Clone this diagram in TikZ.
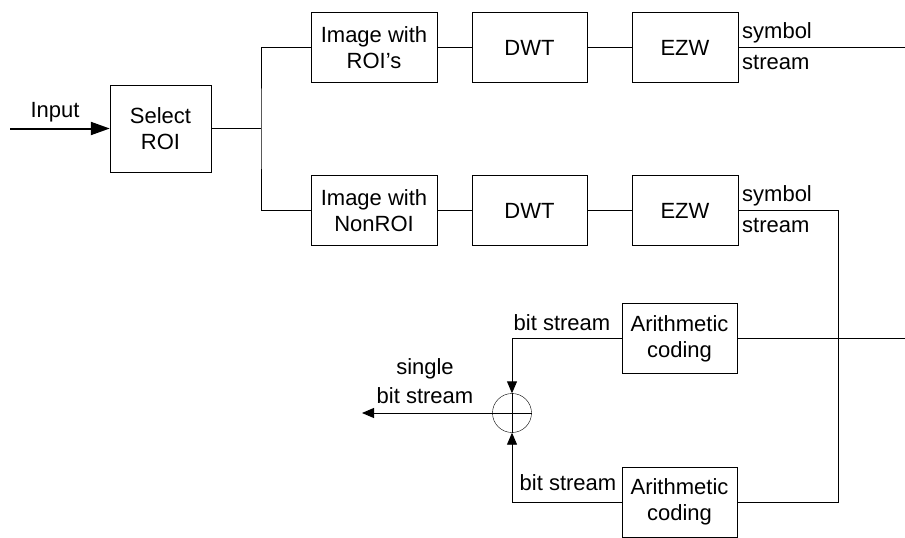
\documentclass[tikz,border=0pt]{standalone}
\usepackage{fontspec}
\setmainfont{Liberation Sans}
\usetikzlibrary{arrows.meta, positioning, calc}

\begin{document}
\begin{tikzpicture}[
    x=1pt, y=-1pt,
    >={Triangle[length=12pt, width=10pt]},
    block/.style={draw, minimum height=70pt, align=center, font=\fontsize{22}{26}\selectfont, inner sep=2pt},
    lbl/.style={font=\fontsize{22}{26}\selectfont, inner sep=1pt},
    wire/.style={line width=0.9pt},
    flow/.style={->, line width=0.9pt}
  ]
    \useasboundingbox (0,0) rectangle (905,538);

    % Blocks
    \node[block, minimum width=101pt, minimum height=87pt] (select) at (160.5,128.5) {Select\\ROI};
    \node[block, minimum width=126pt] (imgroi) at (374,47.5) {Image with\\ROI's};
    \node[block, minimum width=115pt] (dwta) at (529.5,47.5) {DWT};
    \node[block, minimum width=106pt] (ezwa) at (685,47.5) {EZW};
    \node[block, minimum width=126pt] (imgnon) at (374,210.5) {Image with\\NonROI};
    \node[block, minimum width=115pt] (dwtb) at (529.5,210.5) {DWT};
    \node[block, minimum width=106pt] (ezwb) at (685,210.5) {EZW};
    \node[block, minimum width=115pt] (arita) at (679.5,338.5) {Arithmetic\\coding};
    \node[block, minimum width=115pt] (aritb) at (679.5,502) {Arithmetic\\coding};
    \node[draw, circle, minimum size=39pt, inner sep=0pt] (sum) at (512,413) {};
    \draw (sum.north) -- (sum.south) (sum.west) -- (sum.east);

    % Free ends
    \coordinate (in) at (10,128.5);
    \coordinate (split) at (261,128.5);
    \coordinate (outa) at (905,47.5);
    \coordinate (outb) at (905,338.5);
    \coordinate (turn) at (838,210.5);
    \coordinate (out) at (362,413);

    % Connectors
    \draw[-{Triangle[length=19pt, width=13pt]}, line width=2pt] (in) -- (select.west);
    \draw[wire] (select.east) -- (split);
    \draw[wire] (imgroi.west) -| (split) |- (imgnon.west);
    \draw[wire] (imgroi) -- (dwta) -- (ezwa) -- (outa);
    \draw[wire] (imgnon) -- (dwtb) -- (ezwb) -- (turn) |- (aritb.east);
    \draw[wire] (arita.east) -- (outb);
    \draw[flow] (arita.west) -| (sum.north);
    \draw[flow] (aritb.west) -| (sum.south);
    \draw[flow] (sum.west) -- (out);

    % Labels
    \node[lbl] at (55,112) {Input};
    \node[lbl, anchor=west] at (741,33) {symbol};
    \node[lbl, anchor=west] at (741,62) {stream};
    \node[lbl, anchor=west] at (741,196) {symbol};
    \node[lbl, anchor=west] at (741,225) {stream};
    \node[lbl] at (562,323) {bit stream};
    \node[lbl] at (568,483) {bit stream};
    \node[lbl] at (425,369) {single};
    \node[lbl] at (425,396) {bit stream};
  \end{tikzpicture}
\end{document}
